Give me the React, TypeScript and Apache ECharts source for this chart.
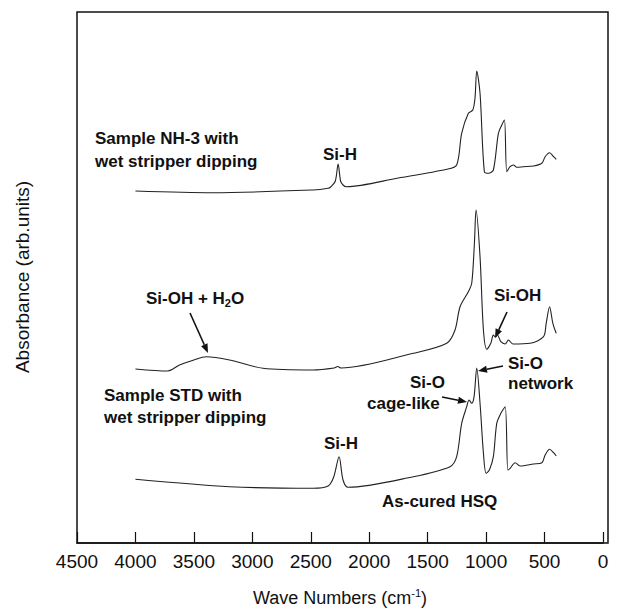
import React, { useEffect, useRef } from "react";
import * as echarts from "echarts";

// Wavenumbers (cm-1) and absorbance (arb. units, offset traces)
const nh3Wn = [4000, 3338, 2480, 2352, 2330, 2290, 2266, 2245, 2224, 2195, 1750, 1337, 1252, 1209, 1152, 1114, 1095, 1080, 1052, 1015, 980, 938, 895, 866, 843, 823, 795, 766, 737, 681, 595, 523, 495, 457, 423, 400];
const nh3Abs = [352, 350.3, 353, 354.7, 356, 362, 379, 362, 358, 356.3, 365, 373.7, 378, 409.7, 429.7, 433, 445, 472, 449.7, 371.3, 369.7, 373, 409.7, 418, 423, 371.3, 376.3, 378, 375.7, 376.3, 377, 379.7, 386.3, 390.3, 386.3, 383.7];

const stdWn = [4000, 3723, 3623, 3500, 3395, 3195, 2909, 2481, 2300, 2270, 2240, 1623, 1337, 1266, 1223, 1152, 1123, 1100, 1086, 1052, 1023, 994, 960, 938, 920, 903, 874, 837, 809, 771, 623, 509, 486, 457, 429, 400];
const stdAbs = [174, 172, 178, 183, 186.3, 183, 174.7, 173, 175, 176.5, 175, 189.7, 199.7, 213, 236.3, 251.3, 259.7, 300, 333, 286.3, 213, 193.7, 199.7, 208, 206, 208, 201.3, 199, 203, 199, 199.7, 206.3, 219.7, 236.3, 219.7, 209.7];

const hsqWn = [4000, 3195, 2481, 2352, 2303, 2258, 2224, 2181, 1623, 1309, 1252, 1209, 1166, 1146, 1123, 1103, 1080, 1052, 1023, 1000, 972, 938, 909, 874, 837, 814, 795, 752, 709, 595, 523, 495, 457, 423, 400];
const hsqAbs = [63.7, 56.3, 54.7, 57, 66.3, 86.3, 63, 55.7, 66.3, 76.3, 86.3, 119.7, 136.3, 143, 139.7, 146.3, 175, 139.7, 89.7, 69.7, 73, 86.3, 119.7, 129.7, 136.3, 73, 74.7, 80.3, 77, 79, 80.3, 88, 93.7, 90.3, 87];

const xTicks = [4500, 4000, 3500, 3000, 2500, 2000, 1500, 1000, 500, 0];

const FONT = '"Liberation Sans", Arial, Helvetica, sans-serif';

function pairs(x: number[], y: number[]) {
  return x.map((v, i) => [v, y[i]]);
}

function arrow(x1: number, y1: number, x2: number, y2: number) {
  const dx = x2 - x1;
  const dy = y2 - y1;
  const len = Math.sqrt(dx * dx + dy * dy);
  const ux = dx / len;
  const uy = dy / len;
  const hl = 9;
  const hw = 3.5;
  const bx = x2 - ux * hl;
  const by = y2 - uy * hl;
  return [
    {
      type: "line",
      shape: { x1, y1, x2: bx, y2: by },
      style: { stroke: "#111", lineWidth: 1.6 },
    },
    {
      type: "polygon",
      shape: {
        points: [
          [x2, y2],
          [bx - uy * hw, by + ux * hw],
          [bx + uy * hw, by - ux * hw],
        ],
      },
      style: { fill: "#111" },
    },
  ];
}

function label(text: string, x: number, y: number) {
  return {
    type: "text",
    x,
    y,
    style: {
      text,
      font: `bold 17px ${FONT}`,
      fill: "#111",
      align: "left",
      verticalAlign: "middle",
    },
  };
}

export default function App() {
  const ref = useRef<HTMLDivElement>(null);
  useEffect(() => {
    if (!ref.current) return;
    const chart = echarts.init(ref.current, undefined, { renderer: "svg" });
    const lineStyle = { color: "#222", width: 1.1 };
    chart.setOption({
      animation: false,
      backgroundColor: "#fff",
      grid: { left: 77, right: 14, top: 12, bottom: 72 },
      xAxis: {
        type: "value",
        inverse: true,
        min: 0,
        max: 4500,
        interval: 500,
        splitLine: { show: false },
        axisLine: { show: true, lineStyle: { color: "#111", width: 1.5 } },
        axisTick: { show: true, inside: true, length: 11, lineStyle: { color: "#111", width: 1.2 } },
        axisLabel: {
          color: "#111",
          fontFamily: FONT,
          fontSize: 19,
          margin: 9,
          formatter: (v: number) => (xTicks.includes(v) ? String(v) : ""),
        },
        name: "Wave Numbers (cm{sup|-1})",
        nameLocation: "middle",
        nameGap: 44,
        nameTextStyle: {
          color: "#111",
          fontFamily: FONT,
          fontSize: 18,
          rich: {
            sup: { fontSize: 11, verticalAlign: "top", padding: [0, 0, 10, 0], fontFamily: FONT, color: "#111" },
          },
        },
      },
      yAxis: {
        type: "value",
        min: 0,
        max: 531,
        show: false,
        splitLine: { show: false },
      },
      series: [
        { name: "NH-3 wet stripper", type: "line", data: pairs(nh3Wn, nh3Abs), showSymbol: false, smooth: 0.3, lineStyle },
        { name: "STD wet stripper", type: "line", data: pairs(stdWn, stdAbs), showSymbol: false, smooth: 0.3, lineStyle },
        { name: "As-cured HSQ", type: "line", data: pairs(hsqWn, hsqAbs), showSymbol: false, smooth: 0.3, lineStyle },
      ],
      graphic: [
        {
          type: "rect",
          shape: { x: 77, y: 12, width: 531, height: 531 },
          style: { fill: "none", stroke: "#111", lineWidth: 1.5 },
          silent: true,
        },
        {
          type: "text",
          x: 22,
          y: 277,
          rotation: Math.PI / 2,
          style: {
            text: "Absorbance (arb.units)",
            font: `19px ${FONT}`,
            fill: "#111",
            align: "center",
            verticalAlign: "middle",
          },
        },
        label("Sample NH-3 with", 95, 138),
        label("wet stripper dipping", 95, 161),
        label("Si-H", 323, 154),
        {
          type: "text",
          x: 146,
          y: 298,
          style: {
            text: "Si-OH + H{sub|2}O",
            font: `bold 17px ${FONT}`,
            fill: "#111",
            align: "left",
            verticalAlign: "middle",
            rich: {
              sub: { fontSize: 11, fontWeight: "bold", fontFamily: FONT, fill: "#111", padding: [10, 0, 0, 0] },
            },
          },
        },
        label("Si-OH", 494, 295),
        label("Si-O", 508, 363),
        label("network", 508, 383),
        label("Si-O", 410, 382),
        label("cage-like", 367, 403),
        label("Sample STD with", 104, 395),
        label("wet stripper dipping", 104, 417),
        label("Si-H", 324, 443),
        label("As-cured HSQ", 382, 501),
        ...arrow(190, 313, 208, 353),
        ...arrow(507, 312, 495, 338),
        ...arrow(503, 366, 478, 371),
        ...arrow(442, 397, 467, 402),
      ],
    });
    return () => chart.dispose();
  }, []);
  return <div ref={ref} style={{ width: 617, height: 615, marginLeft: -8, marginTop: -8 }} />;
}
